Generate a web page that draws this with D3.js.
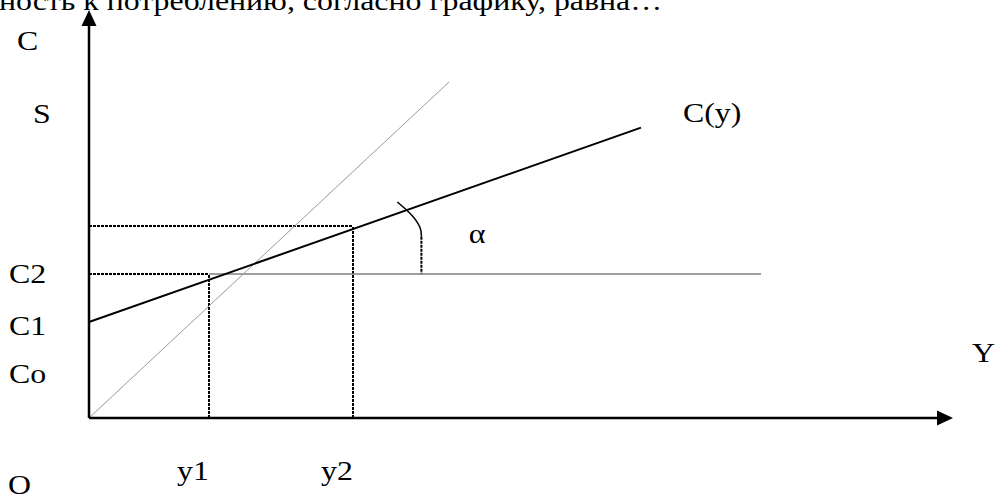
<!DOCTYPE html>
<html>
<head>
<meta charset="utf-8">
<script src="https://cdn.jsdelivr.net/npm/d3@7"></script>
<style>
  html, body { margin: 0; padding: 0; background: #fff; overflow: hidden; }
  svg text { font-family: "Liberation Serif", "Times New Roman", serif; fill: #000; }
</style>
</head>
<body>
<script>
// chart data (units: income Y on x, consumption C on y)
const axisMax = { y: 72, c: 34 };
const consumption = [{ y: 0, c: 8 }, { y: 46, c: 24.2 }];      // C(y)
const bisector45 = [{ y: 0, c: 0 }, { y: 30, c: 28 }];         // "45°" line as drawn
const incomes = [10, 22];                                       // y1, y2
const levels = [12, 16];                                        // C2 and level at y2
const c2LineEnd = 56;
const anglePath = [{ y: 25.7, c: 18 }, { y: 27.0, c: 16.9 }, { y: 27.7, c: 15.8 }, { y: 27.7, c: 15.1 }];
const leftLabels = ["C2", "C1", "Co"];
const xLabels = ["y1", "y2"];

const width = 995, height = 496;
const originX = 89, originY = 418;
const stretch = 1.18;  // scan text is wider than the font

const x = d3.scaleLinear().domain([0, axisMax.y]).range([originX, originX + axisMax.y * 12]);
const y = d3.scaleLinear().domain([0, axisMax.c]).range([originY, originY - axisMax.c * 12]);

const svg = d3.select("body").append("svg")
  .attr("width", width)
  .attr("height", height);

const line = d3.line().x(d => x(d.y)).y(d => y(d.c));

function label(t, lx, ly, anchor) {
  return svg.append("text")
    .attr("transform", `translate(${lx},${ly}) scale(${stretch},1)`)
    .attr("text-anchor", anchor || "start")
    .style("font-size", "27px")
    .text(t);
}

// header text, cut at the top like the scan
label("ность к потреблению, согласно графику, равна…", 662, 10, "end");

// dashed guides
const guides = [
  [{ y: 0, c: levels[0] }, { y: incomes[0], c: levels[0] }],
  [{ y: incomes[0], c: 0 }, { y: incomes[0], c: levels[0] }],
  [{ y: 0, c: levels[1] }, { y: incomes[1], c: levels[1] }],
  [{ y: incomes[1], c: 0 }, { y: incomes[1], c: levels[1] }],
  [{ y: anglePath[3].y, c: anglePath[3].c }, { y: anglePath[3].y, c: levels[0] }]
];
svg.selectAll("path.guide").data(guides).enter().append("path")
  .attr("class", "guide")
  .attr("d", line)
  .attr("fill", "none")
  .attr("stroke", "#000")
  .attr("stroke-width", 2)
  .attr("stroke-dasharray", "3,1");

// horizontal grey line at C2
svg.append("path")
  .attr("d", line([{ y: incomes[0], c: levels[0] }, { y: c2LineEnd, c: levels[0] }]))
  .attr("stroke", "#808080")
  .attr("stroke-width", 1.5);

// 45 degree line
svg.append("path")
  .attr("d", line(bisector45))
  .attr("stroke", "#999")
  .attr("stroke-width", 1);

// consumption function
svg.append("path")
  .attr("d", line(consumption))
  .attr("stroke", "#000")
  .attr("stroke-width", 2);

// angle mark
svg.append("path")
  .attr("d", d3.line().x(d => x(d.y)).y(d => y(d.c)).curve(d3.curveBasis)(anglePath))
  .attr("fill", "none")
  .attr("stroke", "#000")
  .attr("stroke-width", 1.5);

// axes with arrows
svg.append("line")
  .attr("x1", x(0)).attr("y1", y(0))
  .attr("x2", x(0)).attr("y2", y(axisMax.c) + 12)
  .attr("stroke", "#000").attr("stroke-width", 2.5);
svg.append("line")
  .attr("x1", x(0)).attr("y1", y(0))
  .attr("x2", x(axisMax.y) - 14).attr("y2", y(0))
  .attr("stroke", "#000").attr("stroke-width", 2.5);
svg.append("path")
  .attr("d", `M${x(0)},${y(axisMax.c)} L${x(0) - 7.5},${y(axisMax.c) + 16} L${x(0) + 7.5},${y(axisMax.c) + 16} Z`)
  .attr("fill", "#000");
svg.append("path")
  .attr("d", `M${x(axisMax.y)},${y(0)} L${x(axisMax.y) - 16},${y(0) - 7.5} L${x(axisMax.y) - 16},${y(0) + 7.5} Z`)
  .attr("fill", "#000");

// labels
label("C", 17, 50);
label("S", 33, 123);
label("C(y)", 683, 122);
label("Y", 972, 362);
label("O", 8, 494);
label("α", 477, 243, "middle");

leftLabels.forEach((d, i) => label(d, 9, [283, 335, 383][i]));
xLabels.forEach((d, i) => label(d, x(incomes[i]) - 16, 480, "middle"));
</script>
</body>
</html>
